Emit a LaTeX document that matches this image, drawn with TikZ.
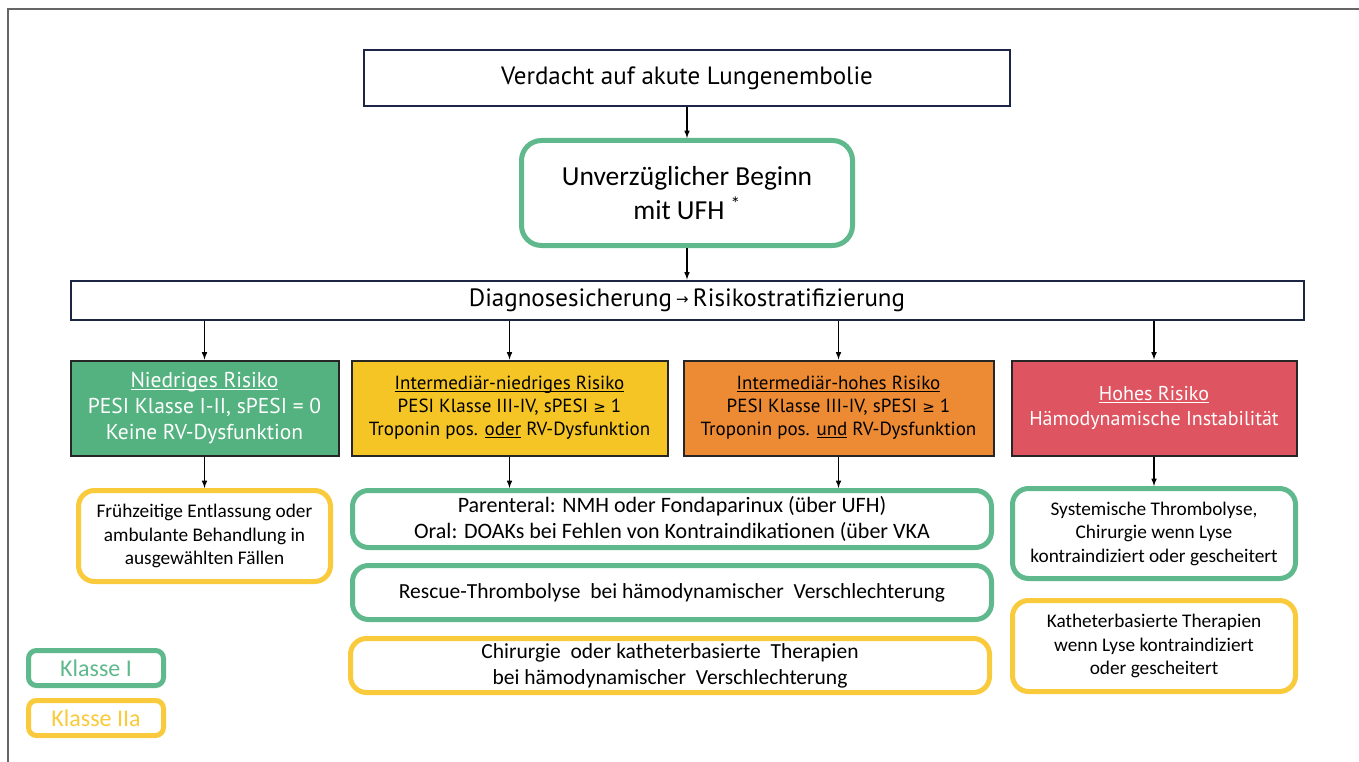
\documentclass[tikz,border=0pt]{standalone}
\usepackage{fontspec}
\setmainfont{Carlito}
\newfontfamily\kastenfont{PT Sans}
\newfontfamily\symbfont{DejaVu Sans}
\usepackage{tikz}
\usetikzlibrary{arrows,positioning}
\definecolor{klasseI}{RGB}{95,185,140}
\definecolor{klasseIIa}{RGB}{248,202,60}
\definecolor{rahmen}{RGB}{28,38,68}
\definecolor{fniedrig}{RGB}{84,178,128}
\definecolor{fintniedrig}{RGB}{245,197,38}
\definecolor{finthoch}{RGB}{237,138,52}
\definecolor{fhoch}{RGB}{222,84,96}
\tikzset{
  box/.style={draw=rahmen, line width=2pt, fill=white, inner sep=0pt, align=center},
  risiko/.style={draw=black!85, line width=2pt, inner sep=0pt, align=center},
  empf/.style={rounded corners=16pt, line width=5pt, fill=white, inner sep=0pt, align=center},
  klI/.style={empf, draw=klasseI},
  klIIa/.style={empf, draw=klasseIIa},
  pfeil/.style={-latex, line width=1.5pt}
}
\newcommand{\groesse}[1]{\fontsize{#1}{1.22\dimexpr #1pt\relax}\selectfont}
\newcommand{\unterstr}[1]{\setbox0\hbox{#1}\rlap{\rule[-2.2pt]{\wd0}{0.9pt}}\box0\relax}

\begin{document}
\begin{tikzpicture}[x=1pt, y=-1pt]
\useasboundingbox (0,0) rectangle (1359,762);
\draw[black!60, line width=2pt] (8,762) -- (8,9) -- (1359,9);

\node[box, minimum width=646, minimum height=56, font=\kastenfont\groesse{25}] (verdacht) at (687,78) {Verdacht auf akute Lungenembolie};
\node[klI, minimum width=331, minimum height=105, font=\groesse{27.5}, rounded corners=20pt] (ufh) at (687,193) {Unverzüglicher Beginn\\ mit UFH \textsuperscript{*}};
\node[box, minimum width=1233, minimum height=39, font=\kastenfont\groesse{25}] (diag) at (687,300) {Diagnosesicherung\,\raisebox{1.5pt}{\symbfont\fontsize{15}{15}\selectfont→}\,Risikostratifizierung};

% Risikoklassen
\node[risiko, fill=fniedrig, text=white, minimum width=268, minimum height=95, font=\kastenfont\groesse{21.5}] (niedrig) at (204.5,408) {\unterstr{Niedriges Risiko}\\ PESI Klasse I-II, sPESI = 0\\ Keine RV-Dysfunktion};
\node[risiko, fill=fintniedrig, minimum width=316, minimum height=95, font=\kastenfont\groesse{19}] (intniedrig) at (509.5,408) {\unterstr{Intermediär-niedriges Risiko}\\ PESI Klasse III-IV, sPESI {\symbfont\fontsize{15}{15}\selectfont≥} 1\\ Troponin pos. \unterstr{oder} RV-Dysfunktion};
\node[risiko, fill=finthoch, minimum width=310, minimum height=95, font=\kastenfont\groesse{19}] (inthoch) at (838.5,408) {\unterstr{Intermediär-hohes Risiko}\\ PESI Klasse III-IV, sPESI {\symbfont\fontsize{15}{15}\selectfont≥} 1\\ Troponin pos. \unterstr{und} RV-Dysfunktion};
\node[risiko, fill=fhoch, text=white, minimum width=285, minimum height=95, font=\kastenfont\groesse{20}] (hoch) at (1154,408) {\unterstr{Hohes Risiko}\\ Hämodynamische Instabilität};

% Empfehlungen
\node[klIIa, minimum width=252, minimum height=91, font=\groesse{19.3}] (entlassung) at (204.5,536) {Frühzeitige Entlassung oder\\ ambulante Behandlung in\\ ausgewählten Fällen};
\node[klI, minimum width=639, minimum height=57, font=\groesse{22}] (antikoag) at (672,519) {Parenteral: NMH oder Fondaparinux (über UFH)\\ Oral: DOAKs bei Fehlen von Kontraindikationen (über VKA};
\node[klI, minimum width=639, minimum height=54, font=\groesse{21.5}] (rescue) at (672,592.5) {Rescue-Thrombolyse\ \ bei hämodynamischer\ \ Verschlechterung};
\node[klIIa, minimum width=639, minimum height=54, font=\groesse{21.5}] (chirurgie) at (670,665.5) {Chirurgie\ \ oder katheterbasierte\ \ Therapien\\ bei hämodynamischer\ \ Verschlechterung};
\node[klI, minimum width=283, minimum height=90, font=\groesse{19.3}] (lyse) at (1154,533.5) {Systemische Thrombolyse,\\ Chirurgie wenn Lyse\\ kontraindiziert oder gescheitert};
\node[klIIa, minimum width=283, minimum height=91, font=\groesse{19.3}] (katheter) at (1154,646) {Katheterbasierte Therapien\\ wenn Lyse kontraindiziert\\ oder gescheitert};

% Legende
\node[klI, rounded corners=8pt, minimum width=135, minimum height=35, text=klasseI, font=\groesse{24}] (legI) at (96,668) {Klasse I};
\node[klIIa, rounded corners=8pt, minimum width=135, minimum height=35, text=klasseIIa, font=\groesse{24}] (legIIa) at (96,718) {Klasse IIa};

\draw[pfeil] (verdacht) -- (ufh);
\draw[pfeil] (ufh) -- (diag);
\foreach \r in {niedrig,intniedrig,inthoch,hoch}
  \draw[pfeil] (diag.south -| \r.north) -- (\r.north);
\draw[pfeil] (niedrig) -- (entlassung);
\draw[pfeil] (intniedrig.south) -- (intniedrig.south |- antikoag.north);
\draw[pfeil] (inthoch.south) -- (inthoch.south |- antikoag.north);
\draw[pfeil] (hoch) -- (lyse);
\end{tikzpicture}
\end{document}
